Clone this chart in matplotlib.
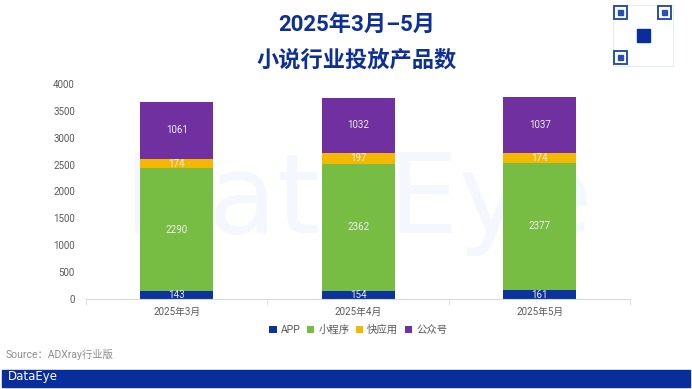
import numpy as np
import matplotlib.pyplot as plt
from matplotlib.patches import Rectangle

plt.rcParams['font.family'] = ['Roboto', 'Noto Sans CJK SC', 'DejaVu Sans']

months = ['2025年3月', '2025年4月', '2025年5月']
series = ['APP', '小程序', '快应用', '公众号']
app = [143, 154, 161]
mini = [2290, 2362, 2377]
quick = [174, 197, 174]
official = [1061, 1032, 1037]
colors = ['#0a33a0', '#78bd43', '#f5b800', '#7030a0']
yticks = [0, 500, 1000, 1500, 2000, 2500, 3000, 3500, 4000]


def px_rect(fig, x, y, w, h, **kw):
    # rectangle given in pixels from the top-left corner
    W, H = 692.0, 389.0
    r = Rectangle((x / W, 1 - (y + h) / H), w / W, h / H, transform=fig.transFigure, **kw)
    fig.patches.append(r)


def run():
    fig = plt.figure(figsize=(6.92, 3.89), dpi=100)
    ax = fig.add_axes([0.1243, 0.2314, 0.7867, 0.5527])

    # faint watermark behind bars
    ax.text(0.5, 0.45, 'DataEye', transform=ax.transAxes, ha='center', va='center',
            fontsize=80, color='#f4f7fd', zorder=0, family='DejaVu Sans')

    x = np.arange(len(months))
    bottom = np.zeros(len(months))
    for name, vals, c in zip(series, [app, mini, quick, official], colors):
        vals = np.array(vals)
        ax.bar(x, vals, 0.40, bottom=bottom, color=c, label=name, zorder=2)
        for xi, b, v in zip(x, bottom, vals):
            ax.text(xi, b + v / 2, str(v), ha='center', va='center',
                    fontsize=7, color='#eeeeee', zorder=3)
        bottom += vals

    ax.set_xlim(-0.5, 2.5)
    ax.set_ylim(0, 4000)
    ax.set_yticks(yticks)
    ax.set_xticks(x)
    ax.set_xticklabels(months)
    ax.set_xticks([-0.5, 0.5, 1.5, 2.5], minor=True)
    ax.tick_params(axis='x', which='major', length=0, labelsize=7, colors='#595959', pad=6)
    ax.tick_params(axis='x', which='minor', length=4, color='#d9d9d9')
    ax.tick_params(axis='y', length=0, labelsize=7, colors='#595959', pad=8)
    for s in ['top', 'right', 'left']:
        ax.spines[s].set_visible(False)
    ax.spines['bottom'].set_color('#d9d9d9')

    ax.legend(loc='upper center', bbox_to_anchor=(0.5, -0.075), ncol=4, frameon=False,
              fontsize=7.5, handlelength=0.7, handleheight=0.7, handletextpad=0.4,
              columnspacing=0.6, labelcolor='#595959')

    fig.text(0.516, 0.935, '2025年3月–5月', ha='center', va='center',
             fontsize=16, fontweight='bold', color='#0d2f96')
    fig.text(0.516, 0.845, '小说行业投放产品数', ha='center', va='center',
             fontsize=16, fontweight='bold', color='#0d2f96')

    fig.text(0.008, 0.088, 'Source：ADXray行业版', ha='left', va='center',
             fontsize=7.5, color='#8c8c8c')

    # footer bar
    px_rect(fig, 2, 370, 688, 17, color='#0a2d9c', zorder=1)
    fig.text(0.012, 0.031, 'DataEye', ha='left', va='center', fontsize=8.5,
             color='white', family='DejaVu Sans')

    # QR code placeholder (finder squares and centre logo)
    px_rect(fig, 613, 5, 60, 61, fill=False, ec='#dbe3f5', lw=0.5)
    for fx, fy in [(614, 6), (658, 6), (614, 51)]:
        px_rect(fig, fx, fy, 13, 13, fill=False, ec='#2a4fb0', lw=1.4)
        px_rect(fig, fx + 4, fy + 4, 5, 5, color='#2a4fb0')
    px_rect(fig, 637, 29, 13, 13, color='#0a2d9c')

    fig.savefig('out.png', dpi=100)


if __name__ == "__main__":
    run()
